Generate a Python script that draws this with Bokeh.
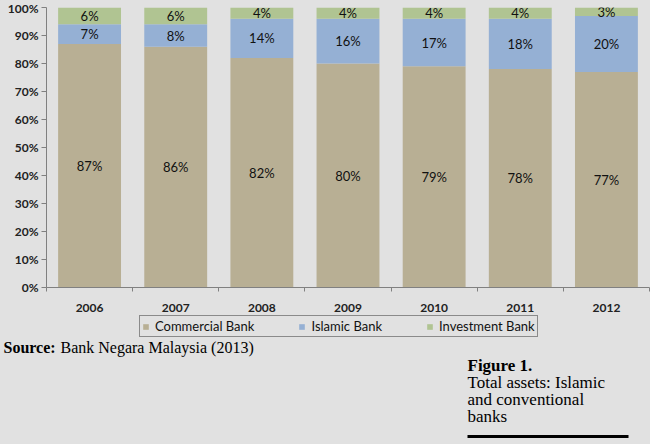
from bokeh.plotting import figure
from bokeh.models import Range1d, ColumnDataSource, FixedTicker, Legend, LegendItem, Label, PrintfTickFormatter
from bokeh.core.properties import value
from bokeh.layouts import column
from bokeh.embed import file_html
from bokeh.resources import INLINE

# ---- data ----
years = ["2006", "2007", "2008", "2009", "2010", "2011", "2012"]
commercial = [87, 86, 82, 80, 79, 78, 77]
islamic = [7, 8, 14, 16, 17, 18, 20]
investment = [6, 6, 4, 4, 4, 4, 3]
series_names = ["Commercial Bank", "Islamic Bank", "Investment Bank"]
y_ticks = [0, 10, 20, 30, 40, 50, 60, 70, 80, 90, 100]
source_bold = "Source:"
source_text = "Bank Negara Malaysia (2013)"
caption_title = "Figure 1."
caption_lines = ["Total assets: Islamic", "and conventional", "banks"]

BG = "#e1e1e1"
colors = ["#b8af94", "#95b0d4", "#b0c492"]
FONT = "Lato"
SERIF = "Liberation Serif"

n = len(years)
xpos = [i + 0.5 for i in range(n)]
c_mid = [c / 2 for c in commercial]
i_mid = [c + i / 2 for c, i in zip(commercial, islamic)]
v_mid = [c + i + v / 2 for c, i, v in zip(commercial, islamic, investment)]

src = ColumnDataSource(dict(
    x=xpos, commercial=commercial, islamic=islamic, investment=investment,
    c_mid=c_mid, i_mid=i_mid, v_mid=v_mid,
    c_txt=[f"{v}%" for v in commercial],
    i_txt=[f"{v}%" for v in islamic],
    v_txt=[f"{v}%" for v in investment],
))

W = 650
H1 = 314
H2 = 130

p = figure(width=W, height=H1, x_range=Range1d(0, n), y_range=Range1d(0, 100),
           output_backend="svg", toolbar_location=None, frame_align=False,
           min_border_left=46, min_border_right=1, min_border_top=7, min_border_bottom=27,
           background_fill_color=BG, border_fill_color=BG, outline_line_color=None)

p.vbar_stack(["commercial", "islamic", "investment"], x="x", width=0.73,
             color=colors, line_color=None, source=src)

for ycol, tcol in (("c_mid", "c_txt"), ("i_mid", "i_txt"), ("v_mid", "v_txt")):
    p.text(x="x", y=ycol, text=tcol, source=src, text_align="center", text_baseline="middle",
           text_font=value(FONT), text_font_size="13px", text_color="#111111")

p.xgrid.visible = False
p.ygrid.visible = False

# x axis
p.xaxis.ticker = FixedTicker(ticks=xpos, minor_ticks=list(range(n + 1)))
p.xaxis.major_label_overrides = {x: y for x, y in zip(xpos, years)}
p.xaxis.major_tick_out = 0
p.xaxis.major_tick_in = 0
p.xaxis.minor_tick_out = 4
p.xaxis.minor_tick_in = 0
p.xaxis.minor_tick_line_color = "#808080"
p.xaxis.axis_line_color = "#808080"
p.xaxis.major_label_standoff = 12
p.xaxis.major_label_text_font = FONT
p.xaxis.major_label_text_font_style = "bold"
p.xaxis.major_label_text_font_size = "12px"
p.xaxis.major_label_text_color = "#222222"

# y axis
p.yaxis.ticker = FixedTicker(ticks=y_ticks)
p.yaxis.formatter = PrintfTickFormatter(format="%d%%")
p.yaxis.major_tick_out = 5
p.yaxis.major_tick_in = 0
p.yaxis.minor_tick_out = 0
p.yaxis.minor_tick_in = 0
p.yaxis.major_tick_line_color = "#808080"
p.yaxis.axis_line_color = "#808080"
p.yaxis.major_label_standoff = 3
p.yaxis.major_label_text_font = FONT
p.yaxis.major_label_text_font_style = "bold"
p.yaxis.major_label_text_font_size = "12px"
p.yaxis.major_label_text_color = "#222222"

# ---- bottom panel: legend, source, caption (data x/y == pixel position in panel) ----
p2 = figure(width=W, height=H2, x_range=Range1d(0, W), y_range=Range1d(H2, 0),
            output_backend="svg", toolbar_location=None, frame_align=False,
            min_border=0, x_axis_location=None, y_axis_location=None,
            background_fill_color=BG, border_fill_color=BG, outline_line_color=None)
p2.xgrid.visible = False
p2.ygrid.visible = False

# zero-height swatch renderers used only as legend keys
dummies = [p2.vbar(x=[0], top=[0], bottom=[0], width=0.001, fill_color=c, line_color=None)
           for c in colors]
legend = Legend(items=[LegendItem(label=nm, renderers=[r]) for nm, r in zip(series_names, dummies)],
                orientation="horizontal", location=(139, H2 - 4 - 19),
                border_line_color="#333333", border_line_width=1,
                background_fill_color=BG, background_fill_alpha=1,
                glyph_width=7, glyph_height=7, label_height=13, padding=2, spacing=44,
                label_standoff=6, margin=0,
                label_text_font=FONT, label_text_font_size="13px", label_text_color="#111111")
p2.add_layout(legend)


def add_text(x, y, text, size, bold=False):
    p2.add_layout(Label(x=x, y=y, text=text, text_font=SERIF,
                        text_font_style="bold" if bold else "normal",
                        text_font_size=size, text_baseline="middle", text_color="#000000"))


add_text(3, 33, source_bold, "16px", bold=True)
add_text(60, 33, source_text, "16px")
add_text(467, 51, caption_title, "17px", bold=True)
for k, line in enumerate(caption_lines):
    add_text(467, 68 + k * 17, line, "17px")
p2.segment(x0=[467], y0=[122], x1=[628], y1=[122], line_color="#000000", line_width=3)

layout = column(p, p2, spacing=0)
layout.styles = {"background-color": BG}
open("out.html", "w").write(file_html(layout, INLINE))
